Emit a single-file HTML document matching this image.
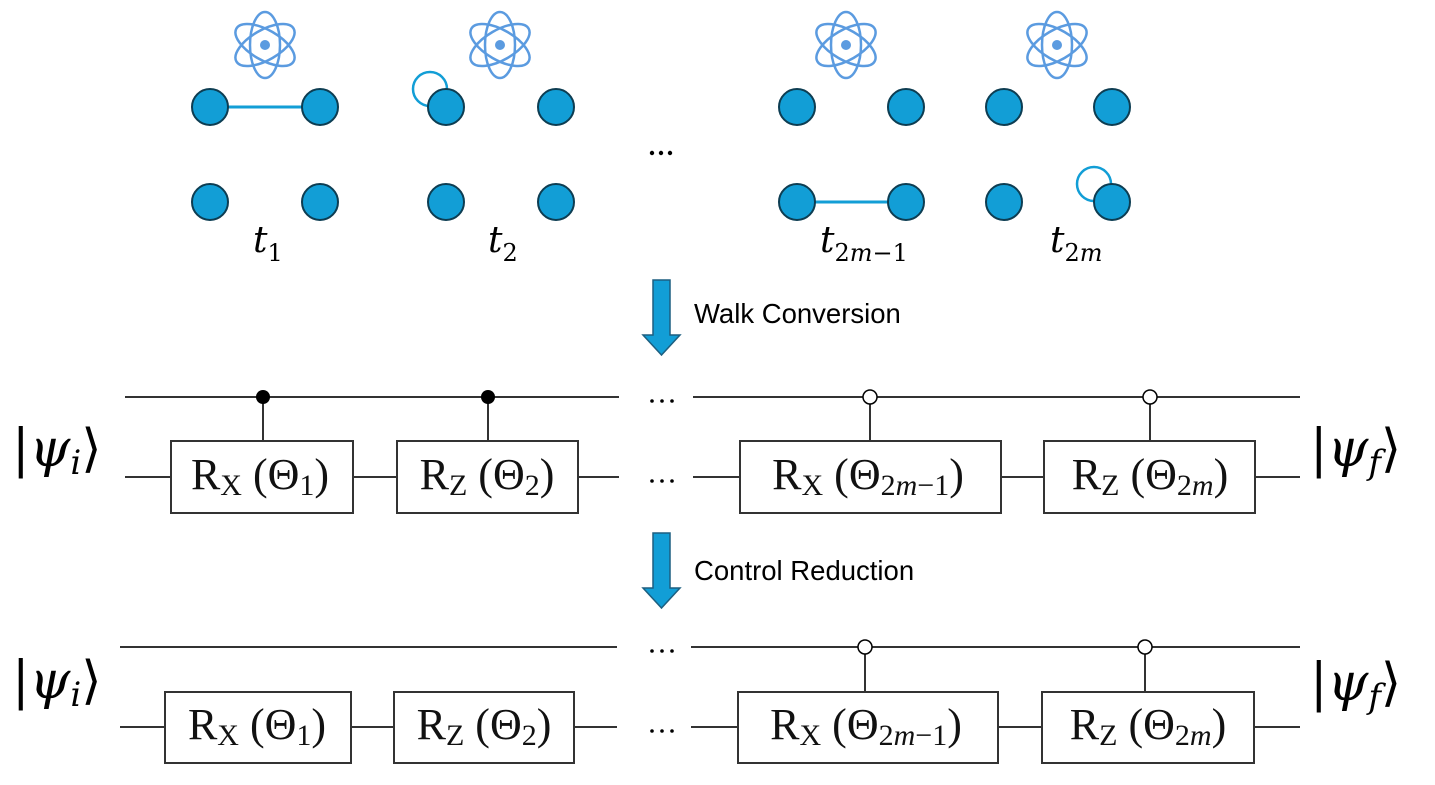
<!DOCTYPE html>
<html><head><meta charset="utf-8"><style>
html,body{margin:0;padding:0;background:#fff;}
svg{display:block;}
</style></head><body>
<svg width="1435" height="785" viewBox="0 0 1435 785" xmlns="http://www.w3.org/2000/svg">
<defs>
<g id="atom">
<ellipse cx="0" cy="0" rx="33" ry="15" fill="none" stroke="#5b9be0" stroke-width="2.5" transform="rotate(90)"/>
<ellipse cx="0" cy="0" rx="33" ry="15" fill="none" stroke="#5b9be0" stroke-width="2.5" transform="rotate(30)"/>
<ellipse cx="0" cy="0" rx="33" ry="15" fill="none" stroke="#5b9be0" stroke-width="2.5" transform="rotate(-30)"/>
<circle cx="0" cy="0" r="5" fill="#5b9be0"/>
</g>
<circle id="nd" r="18" fill="#129ed6" stroke="#0d3d52" stroke-width="2"/>
</defs>

<use href="#atom" x="265" y="45"/>
<use href="#atom" x="500" y="45"/>
<use href="#atom" x="846" y="45"/>
<use href="#atom" x="1057" y="45"/>

<line x1="210" y1="107" x2="320" y2="107" stroke="#129ed6" stroke-width="3"/>
<use href="#nd" x="210" y="107"/><use href="#nd" x="320" y="107"/>
<use href="#nd" x="210" y="202"/><use href="#nd" x="320" y="202"/>
<circle cx="430" cy="89" r="17" fill="none" stroke="#129ed6" stroke-width="2.5"/>
<use href="#nd" x="446" y="107"/><use href="#nd" x="556" y="107"/>
<use href="#nd" x="446" y="202"/><use href="#nd" x="556" y="202"/>
<line x1="797" y1="202" x2="906" y2="202" stroke="#129ed6" stroke-width="3"/>
<use href="#nd" x="797" y="107"/><use href="#nd" x="906" y="107"/>
<use href="#nd" x="797" y="202"/><use href="#nd" x="906" y="202"/>
<circle cx="1094" cy="184" r="17" fill="none" stroke="#129ed6" stroke-width="2.5"/>
<use href="#nd" x="1004" y="107"/><use href="#nd" x="1112" y="107"/>
<use href="#nd" x="1004" y="202"/><use href="#nd" x="1112" y="202"/>

<g fill="#000"><circle cx="652" cy="153" r="2.2"/><circle cx="661" cy="153" r="2.2"/><circle cx="670" cy="153" r="2.2"/></g>

<g font-family="DejaVu Serif, Liberation Serif, serif" font-style="italic" font-size="36" fill="#000">
<text x="253" y="252">t<tspan font-size="24" dy="9" font-style="normal">1</tspan></text>
<text x="488" y="252">t<tspan font-size="24" dy="9" font-style="normal">2</tspan></text>
<text x="820" y="252">t<tspan font-size="24" dy="9" font-style="normal">2<tspan font-style="italic">m</tspan>−1</tspan></text>
<text x="1050" y="252">t<tspan font-size="24" dy="9" font-style="normal">2<tspan font-style="italic">m</tspan></tspan></text>
</g>

<path d="M653 280 H670 V335 H680 L661.5 355 L643 335 H653 Z" fill="#129ed6" stroke="#1d5f80" stroke-width="1.5"/>
<text x="694" y="323" font-family="Liberation Sans, sans-serif" font-size="27.5">Walk Conversion</text>
<path d="M653 533 H670 V588 H680 L661.5 608 L643 588 H653 Z" fill="#129ed6" stroke="#1d5f80" stroke-width="1.5"/>
<text x="694" y="580" font-family="Liberation Sans, sans-serif" font-size="27.5">Control Reduction</text>

<g stroke="#333" stroke-width="2" fill="none">
<line x1="125" y1="397" x2="619" y2="397"/>
<line x1="693" y1="397" x2="1300" y2="397"/>
<line x1="125" y1="477" x2="619" y2="477"/>
<line x1="693" y1="477" x2="1300" y2="477"/>
<line x1="263" y1="397" x2="263" y2="441"/>
<line x1="488" y1="397" x2="488" y2="441"/>
<line x1="870" y1="397" x2="870" y2="441"/>
<line x1="1150" y1="397" x2="1150" y2="441"/>
<rect x="171" y="441" width="182" height="72" fill="#fff"/>
<rect x="397" y="441" width="181" height="72" fill="#fff"/>
<rect x="740" y="441" width="261" height="72" fill="#fff"/>
<rect x="1044" y="441" width="211" height="72" fill="#fff"/>
</g>
<circle cx="263" cy="397" r="7" fill="#000"/>
<circle cx="488" cy="397" r="7" fill="#000"/>
<circle cx="870" cy="397" r="7" fill="#fff" stroke="#000" stroke-width="1.5"/>
<circle cx="1150" cy="397" r="7" fill="#fff" stroke="#000" stroke-width="1.5"/>

<g stroke="#333" stroke-width="2" fill="none">
<line x1="120" y1="647" x2="617" y2="647"/>
<line x1="691" y1="647" x2="1300" y2="647"/>
<line x1="120" y1="727" x2="617" y2="727"/>
<line x1="691" y1="727" x2="1300" y2="727"/>
<line x1="865" y1="647" x2="865" y2="692"/>
<line x1="1145" y1="647" x2="1145" y2="692"/>
<rect x="165" y="692" width="186" height="71" fill="#fff"/>
<rect x="394" y="692" width="180" height="71" fill="#fff"/>
<rect x="738" y="692" width="260" height="71" fill="#fff"/>
<rect x="1042" y="692" width="212" height="71" fill="#fff"/>
</g>
<circle cx="865" cy="647" r="7" fill="#fff" stroke="#000" stroke-width="1.5"/>
<circle cx="1145" cy="647" r="7" fill="#fff" stroke="#000" stroke-width="1.5"/>

<g fill="#000">
<circle cx="652" cy="401" r="1.8"/><circle cx="662" cy="401" r="1.8"/><circle cx="672" cy="401" r="1.8"/>
<circle cx="652" cy="481" r="1.8"/><circle cx="662" cy="481" r="1.8"/><circle cx="672" cy="481" r="1.8"/>
<circle cx="652" cy="651" r="1.8"/><circle cx="662" cy="651" r="1.8"/><circle cx="672" cy="651" r="1.8"/>
<circle cx="652" cy="731" r="1.8"/><circle cx="662" cy="731" r="1.8"/><circle cx="672" cy="731" r="1.8"/>
</g>

<g font-family="Liberation Serif, serif" font-size="44" fill="#111">
<text x="260" y="489" text-anchor="middle">R<tspan font-size="30" dy="6">X</tspan><tspan dy="-6"> (Θ</tspan><tspan font-size="30" dy="6">1</tspan><tspan dy="-6">)</tspan></text>
<text x="487" y="489" text-anchor="middle">R<tspan font-size="30" dy="6">Z</tspan><tspan dy="-6"> (Θ</tspan><tspan font-size="30" dy="6">2</tspan><tspan dy="-6">)</tspan></text>
<text x="868" y="489" text-anchor="middle">R<tspan font-size="30" dy="6">X</tspan><tspan dy="-6"> (Θ</tspan><tspan font-size="30" dy="6">2<tspan font-style="italic">m</tspan>−1</tspan><tspan dy="-6">)</tspan></text>
<text x="1150" y="489" text-anchor="middle">R<tspan font-size="30" dy="6">Z</tspan><tspan dy="-6"> (Θ</tspan><tspan font-size="30" dy="6">2<tspan font-style="italic">m</tspan></tspan><tspan dy="-6">)</tspan></text>

<text x="257" y="739" text-anchor="middle">R<tspan font-size="30" dy="6">X</tspan><tspan dy="-6"> (Θ</tspan><tspan font-size="30" dy="6">1</tspan><tspan dy="-6">)</tspan></text>
<text x="484" y="739" text-anchor="middle">R<tspan font-size="30" dy="6">Z</tspan><tspan dy="-6"> (Θ</tspan><tspan font-size="30" dy="6">2</tspan><tspan dy="-6">)</tspan></text>
<text x="866" y="739" text-anchor="middle">R<tspan font-size="30" dy="6">X</tspan><tspan dy="-6"> (Θ</tspan><tspan font-size="30" dy="6">2<tspan font-style="italic">m</tspan>−1</tspan><tspan dy="-6">)</tspan></text>
<text x="1148" y="739" text-anchor="middle">R<tspan font-size="30" dy="6">Z</tspan><tspan dy="-6"> (Θ</tspan><tspan font-size="30" dy="6">2<tspan font-style="italic">m</tspan></tspan><tspan dy="-6">)</tspan></text>
</g>

<g font-family="DejaVu Serif, Liberation Serif, serif" font-size="52" fill="#000">
<text x="12" y="466"><tspan>|</tspan><tspan font-style="italic">ψ</tspan><tspan font-style="italic" font-size="34" dy="8">i</tspan><tspan dy="-8">⟩</tspan></text>
<text x="1310" y="466"><tspan>|</tspan><tspan font-style="italic">ψ</tspan><tspan font-style="italic" font-size="34" dy="8">f</tspan><tspan dy="-8">⟩</tspan></text>
<text x="12" y="698"><tspan>|</tspan><tspan font-style="italic">ψ</tspan><tspan font-style="italic" font-size="34" dy="8">i</tspan><tspan dy="-8">⟩</tspan></text>
<text x="1310" y="700"><tspan>|</tspan><tspan font-style="italic">ψ</tspan><tspan font-style="italic" font-size="34" dy="8">f</tspan><tspan dy="-8">⟩</tspan></text>
</g>
</svg>
</body></html>
